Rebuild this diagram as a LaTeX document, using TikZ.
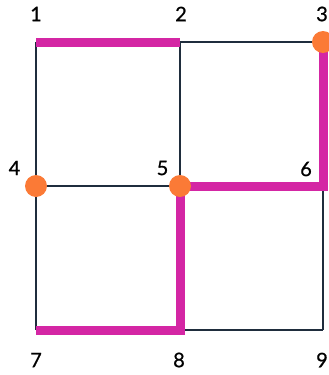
\documentclass[tikz,border=0pt]{standalone}
\usepackage{fontspec}
\setmainfont{Lato}
\newfontfamily\labelfont[FakeBold=0.8]{Lato}
\definecolor{gridline}{HTML}{1F2D3D}
\definecolor{routepink}{HTML}{D426A4}
\definecolor{dotorange}{HTML}{FB7A36}
\begin{document}
\begin{tikzpicture}[x=1pt,y=-1pt,
  cell/.style={draw=gridline,line width=1.1pt},
  route/.style={draw=routepink,line width=9pt,line cap=butt,line join=miter},
  dot/.style={circle,fill=dotorange,inner sep=0pt,minimum size=22pt},
  num/.style={font=\labelfont\fontsize{20}{24}\selectfont,inner sep=0pt,text=black}]
\useasboundingbox (0,0) rectangle (329,375);
% grid points
\coordinate (p1) at (36,42);
\coordinate (p2) at (180,42);
\coordinate (p3) at (323,42);
\coordinate (p4) at (36,186);
\coordinate (p5) at (180,186);
\coordinate (p6) at (323,186);
\coordinate (p7) at (36,330);
\coordinate (p8) at (180,330);
\coordinate (p9) at (323,330);
% thin grid
\draw[cell] (p1) -- (p3);
\draw[cell] (p4) -- (p6);
\draw[cell] (p7) -- (p9);
\draw[cell] (p1) -- (p7);
\draw[cell] (p2) -- (p8);
\draw[cell] (p3) -- (p9);
% highlighted route
\draw[route] (p1) -- (p2);
\draw[route] (p3) -- (p6) -- (p5);
\draw[route] (p5) -- (p8) -- (p7);
% marked points
\node[dot] (d3) at (p3) {};
\node[dot] (d4) at (p4) {};
\node[dot] (d5) at (p5) {};
% labels
\node[num] (l1) at (36,14) {1};
\node[num] (l2) at (181,14) {2};
\node[num] (l3) at (322,14) {3};
\node[num] (l4) at (14.5,168) {4};
\node[num] (l5) at (162.5,168) {5};
\node[num] (l6) at (306,169) {6};
\node[num] (l7) at (36,360) {7};
\node[num] (l8) at (179,360) {8};
\node[num] (l9) at (322,360) {9};
\end{tikzpicture}
\end{document}
